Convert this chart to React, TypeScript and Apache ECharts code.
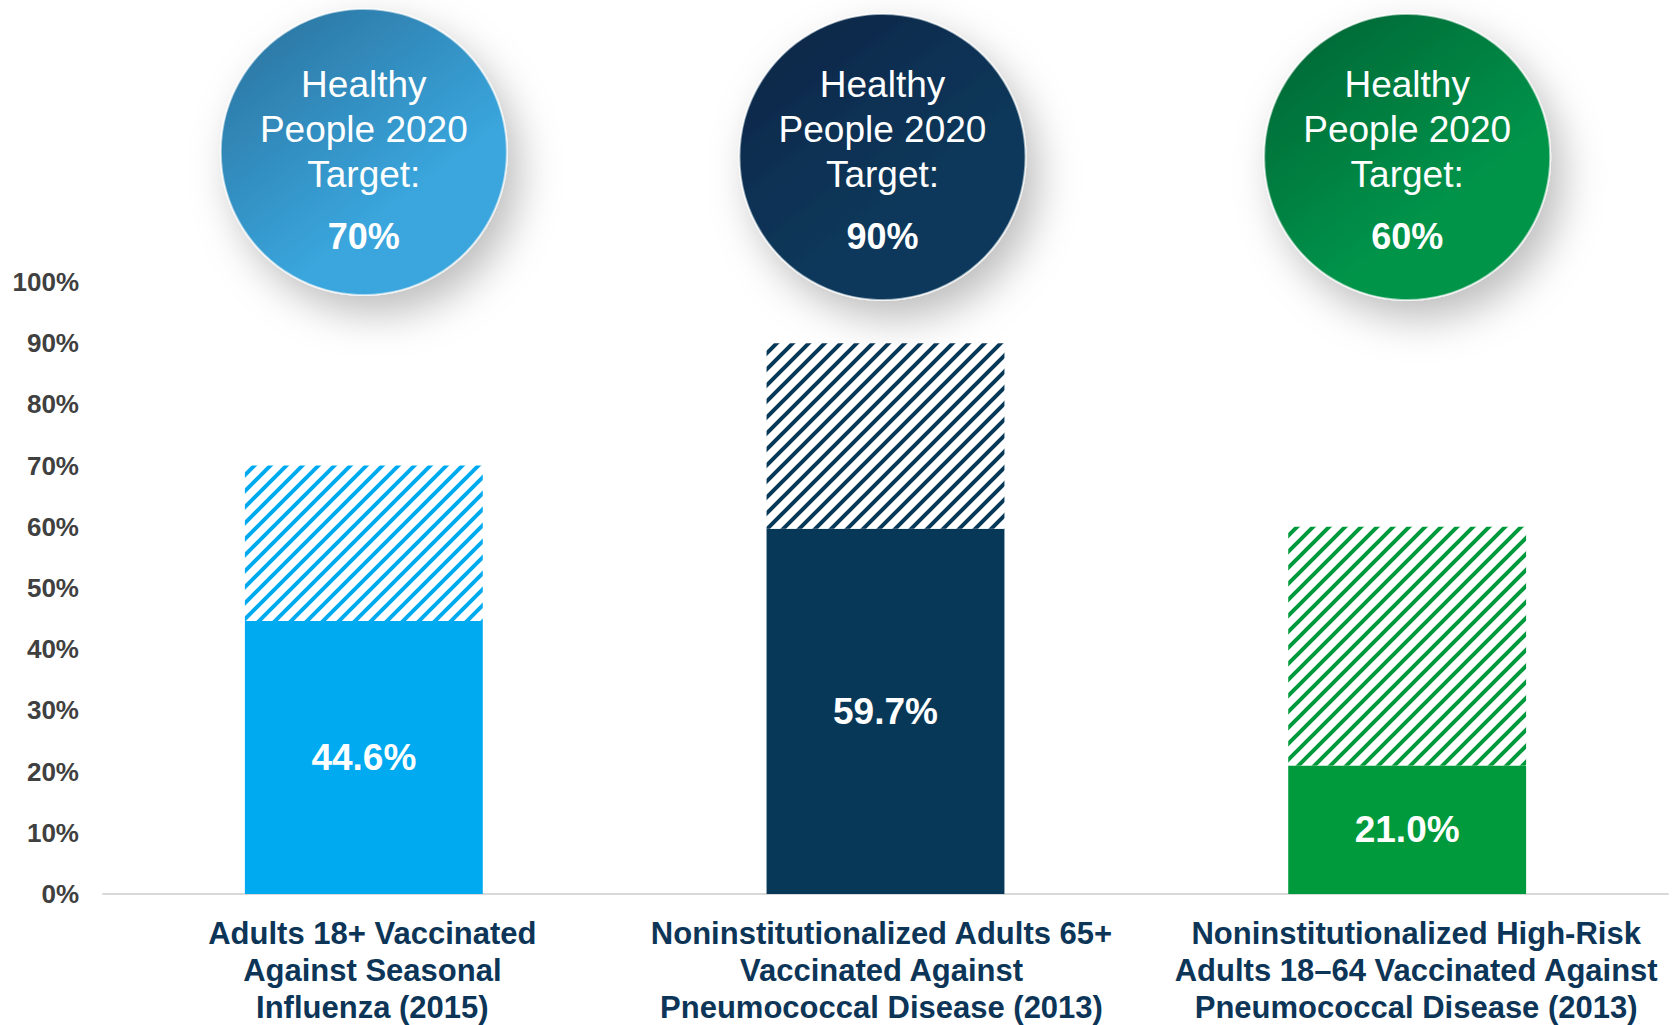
import React, { useEffect, useRef } from "react";
import * as echarts from "echarts";

const categories = [
  "Adults 18+ Vaccinated\nAgainst Seasonal\nInfluenza (2015)",
  "Noninstitutionalized Adults 65+\nVaccinated Against\nPneumococcal Disease (2013)",
  "Noninstitutionalized High-Risk\nAdults 18–64 Vaccinated Against\nPneumococcal Disease (2013)",
];
const actualValues = [44.6, 59.7, 21.0];
const targetValues = [70, 90, 60];
const targetLabels = ["70%", "90%", "60%"];
const circleTitle = "Healthy\nPeople 2020\nTarget:";

const barColors = ["#00aaf0", "#083858", "#009a3c"];
const circleDark = ["#2c79a6", "#08284a", "#056b38"];
const circleLight = ["#3aa6dd", "#08395c", "#00944a"];
const circleY = [152, 157, 157];
const circleDX = [0, -3, 0];
// label horizontal nudges (padding)
const labelPad = [
  [0, 0, 0, 17],
  [0, 8, 0, 0],
  [0, 0, 0, 18],
];

const FONT = "'Liberation Sans', Arial, Helvetica, sans-serif";

function makeHatch(color: string) {
  const size = 16;
  const c = document.createElement("canvas");
  c.width = size;
  c.height = size;
  const ctx = c.getContext("2d")!;
  ctx.fillStyle = "#ffffff";
  ctx.fillRect(0, 0, size, size);
  ctx.strokeStyle = color;
  ctx.lineWidth = 4;
  ctx.lineCap = "square";
  const lines = [
    [-size / 2, size / 2, size / 2, -size / 2],
    [0, size, size, 0],
    [size / 2, size * 1.5, size * 1.5, size / 2],
  ];
  for (const [x1, y1, x2, y2] of lines) {
    ctx.beginPath();
    ctx.moveTo(x1, y1);
    ctx.lineTo(x2, y2);
    ctx.stroke();
  }
  return { image: c, repeat: "repeat", imageWidth: size, imageHeight: size } as any;
}

export default function App() {
  const ref = useRef<HTMLDivElement>(null);

  useEffect(() => {
    document.body.style.margin = "0";
    const chart = echarts.init(ref.current!, null, { renderer: "svg" });

    const labelBase = {
      color: "#0c3557",
      fontFamily: FONT,
      fontWeight: "bold",
      fontSize: 31,
      lineHeight: 37,
    };
    const rich: any = {};
    labelPad.forEach((p, i) => {
      rich["c" + i] = { ...labelBase, padding: p };
    });

    const option: any = {
      animation: false,
      backgroundColor: "#ffffff",
      grid: {
        left: 103,
        right: 9,
        top: 282,
        bottom: 131,
        containLabel: false,
        outerBoundsMode: "none",
      },
      xAxis: {
        type: "category",
        data: categories,
        axisTick: { show: false },
        axisLine: { lineStyle: { color: "#d9d9d9", width: 2 } },
        axisLabel: {
          interval: 0,
          margin: 21,
          ...labelBase,
          formatter: (value: string, index: number) =>
            value
              .split("\n")
              .map((line) => `{c${index}|${line}}`)
              .join("\n"),
          rich,
        },
      },
      yAxis: {
        type: "value",
        min: 0,
        max: 100,
        interval: 10,
        splitLine: { show: false },
        axisLine: { show: false },
        axisTick: { show: false },
        axisLabel: {
          formatter: "{value}%",
          margin: 24,
          color: "#404040",
          fontFamily: FONT,
          fontWeight: "bold",
          fontSize: 26,
        },
      },
      series: [
        {
          type: "bar",
          stack: "total",
          barWidth: "45.6%",
          data: actualValues.map((v, i) => ({
            value: v,
            itemStyle: { color: barColors[i] },
          })),
          label: {
            show: true,
            position: "inside",
            color: "#ffffff",
            fontFamily: FONT,
            fontWeight: "bold",
            fontSize: 37,
            formatter: (p: any) => p.value.toFixed(1) + "%",
          },
        },
        {
          type: "bar",
          stack: "total",
          barWidth: "45.6%",
          data: targetValues.map((t, i) => ({
            value: +(t - actualValues[i]).toFixed(1),
            itemStyle: { color: makeHatch(barColors[i]) },
          })),
          label: { show: false },
        },
      ],
    };
    chart.setOption(option);

    const graphic: any[] = [];
    categories.forEach((cat, i) => {
      const cx = (chart.convertToPixel({ xAxisIndex: 0 }, cat) as number) + circleDX[i];
      const cy = circleY[i];
      graphic.push({
        type: "circle",
        shape: { cx, cy, r: 143 },
        style: {
          fill: new echarts.graphic.LinearGradient(0.15, 0.1, 0.6, 0.7, [
            { offset: 0, color: circleDark[i] },
            { offset: 1, color: circleLight[i] },
          ]),
          stroke: "rgba(255,255,255,0.55)",
          lineWidth: 2,
          shadowBlur: 40,
          shadowOffsetX: 12,
          shadowOffsetY: 18,
          shadowColor: "rgba(0,0,0,0.26)",
        },
        z: 10,
      });
      graphic.push({
        type: "text",
        x: cx,
        y: 129.5,
        style: {
          text: circleTitle,
          fill: "#ffffff",
          fontFamily: FONT,
          fontSize: 37,
          lineHeight: 45,
          align: "center",
          verticalAlign: "middle",
        },
        z: 11,
      });
      graphic.push({
        type: "text",
        x: cx,
        y: 236,
        style: {
          text: targetLabels[i],
          fill: "#ffffff",
          fontFamily: FONT,
          fontSize: 36,
          fontWeight: "bold",
          align: "center",
          verticalAlign: "middle",
        },
        z: 11,
      });
    });
    chart.setOption({ graphic });

    return () => chart.dispose();
  }, []);

  return <div ref={ref} style={{ width: 1677, height: 1025 }} />;
}
